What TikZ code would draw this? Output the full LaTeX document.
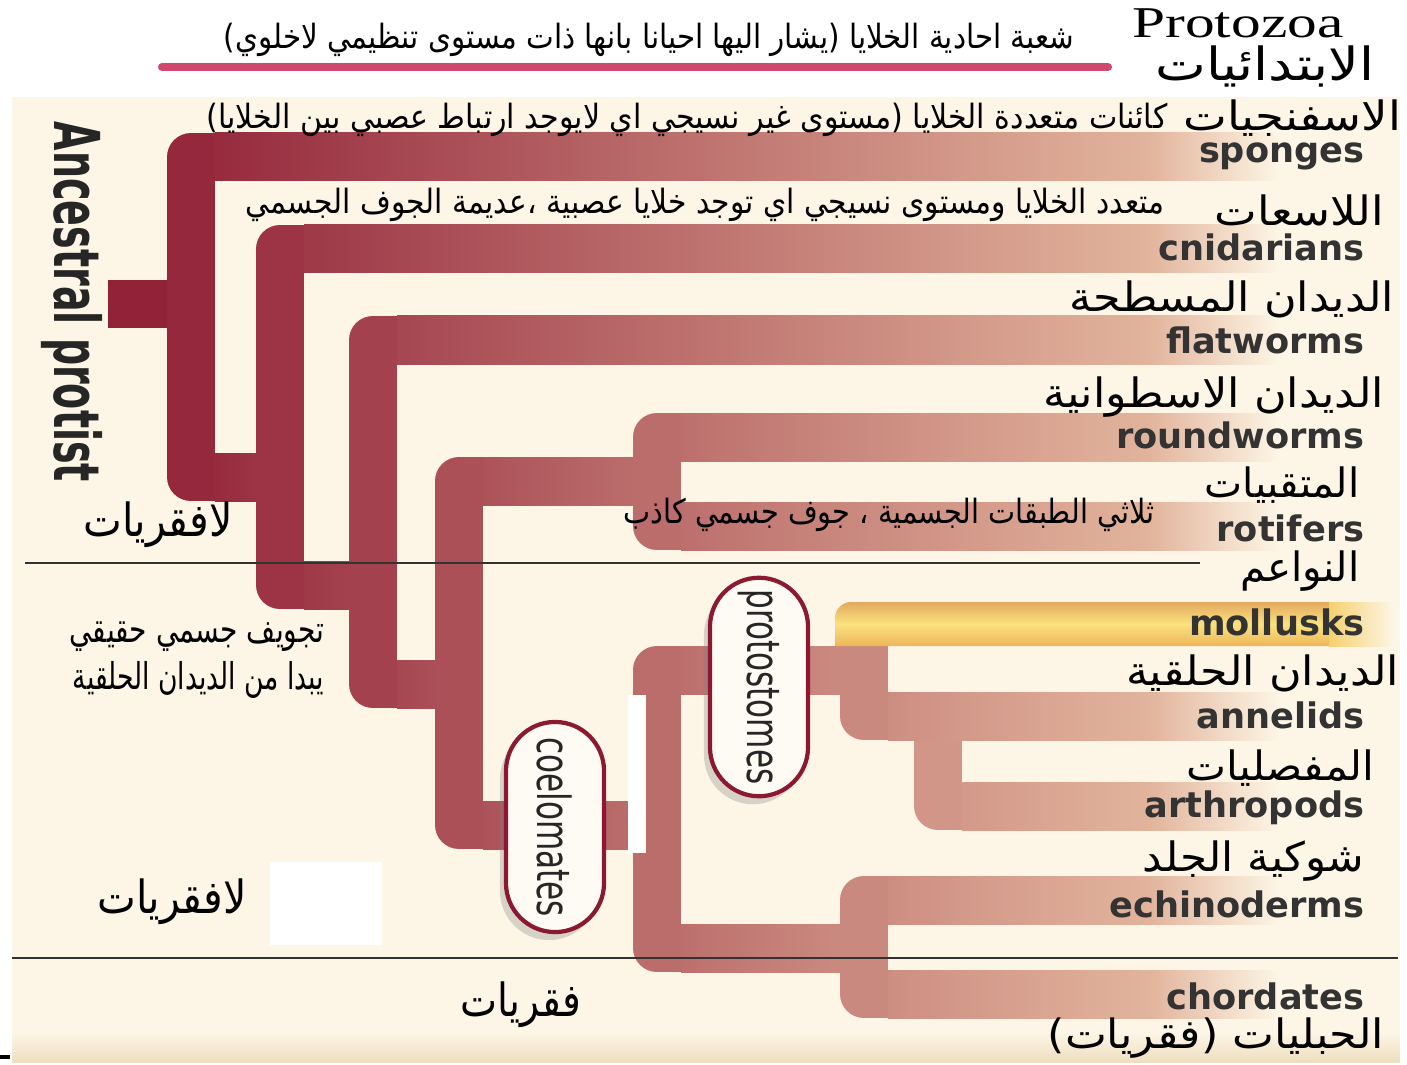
\documentclass[tikz,border=0pt]{standalone}
\usepackage{fontspec}
\usetikzlibrary{shadows}
\TeXXeTstate=1
\newfontfamily\arabicfont[Script=Arabic]{DejaVu Sans}
\newfontfamily\labelfont{DejaVu Sans}
\newfontfamily\titlefont{Liberation Serif}

\definecolor{cream}{RGB}{253,246,230}
\definecolor{panelEdge}{RGB}{238,222,192}
\definecolor{treeA}{RGB}{142,28,52}
\definecolor{treeB}{RGB}{226,180,156}
\definecolor{lineRed}{RGB}{208,72,110}
\definecolor{capRed}{RGB}{140,25,50}
\definecolor{goldTop}{RGB}{226,170,96}
\definecolor{goldMid}{RGB}{251,226,126}
\definecolor{goldLow}{RGB}{236,182,90}

\begin{document}
\begin{tikzpicture}[x=0.01cm, y=-0.01cm,
    branch/.style={line width=0.48cm, line join=round},
    arname/.style={font=\arabicfont\fontsize{11.5}{13}\selectfont, inner sep=0pt, anchor=east},
    ardesc/.style={font=\arabicfont\fontsize{9.5}{11}\selectfont, inner sep=0pt, anchor=east},
    arside/.style={font=\arabicfont\fontsize{13}{15}\selectfont, inner sep=0pt},
    taxon/.style={font=\labelfont\bfseries\fontsize{10}{12}\selectfont, text=black!80, inner sep=0pt, anchor=east},
    capsule/.style={draw=capRed, line width=1.2pt, fill=cream!40!white, rounded corners=0.49cm,
        minimum width=2.1cm, minimum height=0.98cm, rotate=-90, text=black!85,
        font=\labelfont\fontsize{13}{15}\selectfont,
        drop shadow={opacity=0.3, shadow xshift=-0.06cm, shadow yshift=-0.08cm}},
    divider/.style={line width=0.6pt, black!80}]

    % Page and panel
    \useasboundingbox (0,0) rectangle (1407,1064);
    \fill[white] (0,0) rectangle (1407,1064);
    \fill[cream] (12,97) rectangle (1400,1062);
    \shade[top color=cream, bottom color=panelEdge] (12,1032) rectangle (1400,1062);

    % Header
    \node[font=\titlefont\fontsize{12.5}{14}\selectfont] (protozoa) at (1238,23) {\scalebox{1.35}[1]{Protozoa}};
    \node[arname, font=\arabicfont\fontsize{13}{15}\selectfont] (protozoa-ar) at (1375,66) {\scalebox{1.18}[1]{\beginR الابتدائيات\endR}};
    \node[ardesc] (protozoa-desc) at (1075,40) {\scalebox{0.88}[1]{\beginR شعبة احادية الخلايا (يشار اليها احيانا بانها ذات مستوى تنظيمي لاخلوي)\endR}};
    \draw[line width=2.3pt, lineRed, line cap=round] (162,67) -- (1108,67);

    % Branches, solid parts
    \draw[branch, treeB!4!treeA] (108,304) -- (191,304);
    \draw[branch, treeB!8!treeA] (215,157) -- (191,157) -- (191,477) -- (215,477);
    \draw[branch, treeB!16!treeA] (304,249) -- (280,249) -- (280,585) -- (304,585);
    \draw[branch, treeB!25!treeA] (397,340) -- (373,340) -- (373,684) -- (397,684);
    \draw[branch, treeB!34!treeA] (483,481) -- (459,481) -- (459,825) -- (483,825);
    \draw[branch, treeB!53!treeA] (681,437) -- (657,437) -- (657,526) -- (681,526);
    \draw[branch, treeB!53!treeA] (681,670) -- (657,670) -- (657,948) -- (681,948);
    \draw[branch, treeB!72!treeA] (864,646) -- (864,716) -- (888,716);
    \draw[branch, treeB!80!treeA] (938,716) -- (938,806) -- (962,806);
    \draw[branch, treeB!72!treeA] (888,900) -- (864,900) -- (864,994) -- (888,994);

    % Connectors between the stems
    \foreach \xa/\xb/\yc/\pa/\pb in {215/256/477/10/16, 304/349/585/19/25, 397/435/684/28/34,
        483/633/481/36/53, 483/633/825/36/53, 681/840/670/55/72, 681/840/948/55/72}
        \shade[left color=treeB!\pa!treeA, right color=treeB!\pb!treeA] (\xa,\yc-24) rectangle (\xb,\yc+24);

    % Bands to each group
    \foreach \xs/\yc/\p in {215/157/10, 304/249/19, 397/340/28, 681/437/55, 681/526/55,
        888/716/75, 962/806/82, 888/900/75, 888/994/75} {
        \shade[left color=treeB!\p!treeA, right color=treeB] (\xs,\yc-24) rectangle (1150,\yc+24);
        \shade[left color=treeB, right color=cream] (1150,\yc-24) rectangle (1280,\yc+24);
    }

    % Mollusks band
    \shade[top color=goldTop, bottom color=goldLow, middle color=goldMid]
        (835,646) [rounded corners=0.16cm] -- (835,602) [sharp corners] -- (1330,602) -- (1330,646) -- cycle;
    \shade[left color=goldMid!60!goldLow, right color=cream] (1329,602) rectangle (1394,646);

    % White patches
    \fill[white] (270,862) rectangle (382,945);
    \fill[white] (628,695) rectangle (646,853);

    % Dividing lines
    \draw[divider] (25,563) -- (1200,563);
    \draw[divider] (12,958) -- (1398,958);
    \draw[line width=1pt] (0,1057) -- (10,1057);

    % Clade capsules
    \node[capsule] (protostomes) at (759,687) {\scalebox{0.68}[1]{protostomes}};
    \node[capsule] (coelomates) at (555,827) {\scalebox{0.68}[1]{coelomates}};

    % Root label
    \node[font=\labelfont\bfseries\fontsize{18}{20}\selectfont, rotate=-90, text=black!85] (ancestor) at (72,302)
        {\scalebox{0.6}[1]{Ancestral protist}};

    % Group names, Arabic
    \node[arname] (sponges-ar) at (1402,118) {\scalebox{1.15}[1]{\beginR الاسفنجيات\endR}};
    \node[arname] (cnidarians-ar) at (1385,210) {\scalebox{1.12}[1]{\beginR اللاسعات\endR}};
    \node[arname] (flatworms-ar) at (1395,299) {\scalebox{1.1}[1]{\beginR الديدان  المسطحة\endR}};
    \node[arname] (roundworms-ar) at (1385,397) {\scalebox{1.1}[1]{\beginR الديدان الاسطوانية\endR}};
    \node[arname] (rotifers-ar) at (1360,485) {\beginR المتقبيات\endR};
    \node[arname] (mollusks-ar) at (1360,571) {\beginR النواعم\endR};
    \node[arname] (annelids-ar) at (1400,673) {\scalebox{1.1}[1]{\beginR الديدان  الحلقية\endR}};
    \node[arname] (arthropods-ar) at (1375,768) {\scalebox{1.05}[1]{\beginR المفصليات\endR}};
    \node[arname] (echinoderms-ar) at (1365,861) {\scalebox{1.08}[1]{\beginR شوكية الجلد\endR}};
    \node[arname] (chordates-ar) at (1385,1038) {\scalebox{1.1}[1]{\beginR الحبليات (فقريات)\endR}};

    % Group names, English
    \node[taxon] (sponges) at (1365,156) {sponges};
    \node[taxon] (cnidarians) at (1365,247) {cnidarians};
    \node[taxon] (flatworms) at (1365,340) {flatworms};
    \node[taxon] (roundworms) at (1365,435) {roundworms};
    \node[taxon] (rotifers) at (1365,528) {rotifers};
    \node[taxon] (mollusks) at (1365,622) {mollusks};
    \node[taxon] (annelids) at (1365,715) {annelids};
    \node[taxon] (arthropods) at (1365,808) {arthropods};
    \node[taxon] (echinoderms) at (1365,904) {echinoderms};
    \node[taxon] (chordates) at (1365,996) {chordates};

    % Notes on the tree
    \node[ardesc] (sponges-note) at (1168,120) {\scalebox{0.9}[1]{\beginR كائنات متعددة الخلايا (مستوى غير نسيجي اي لايوجد ارتباط عصبي بين الخلايا)\endR}};
    \node[ardesc] (cnidarians-note) at (1165,205) {\scalebox{0.89}[1]{\beginR متعدد الخلايا ومستوى نسيجي اي توجد خلايا عصبية ،عديمة الجوف الجسمي\endR}};
    \node[ardesc] (rotifers-note) at (1155,515) {\scalebox{0.86}[1]{\beginR ثلاثي الطبقات الجسمية ، جوف جسمي كاذب\endR}};
    \node[arside] (invert-top) at (158,525) {\scalebox{0.9}[1]{\beginR لافقريات\endR}};
    \node[ardesc, font=\arabicfont\fontsize{10.5}{12}\selectfont] (coelom-note-a) at (325,637) {\scalebox{0.76}[1]{\beginR تجويف جسمي حقيقي\endR}};
    \node[ardesc, font=\arabicfont\fontsize{10.5}{12}\selectfont] (coelom-note-b) at (325,680) {\scalebox{0.72}[1]{\beginR يبدا من الديدان الحلقية\endR}};
    \node[arside] (invert-low) at (172,902) {\scalebox{0.9}[1]{\beginR لافقريات\endR}};
    \node[arside] (vert) at (521,1005) {\scalebox{0.86}[1]{\beginR فقريات\endR}};

\end{tikzpicture}
\end{document}
